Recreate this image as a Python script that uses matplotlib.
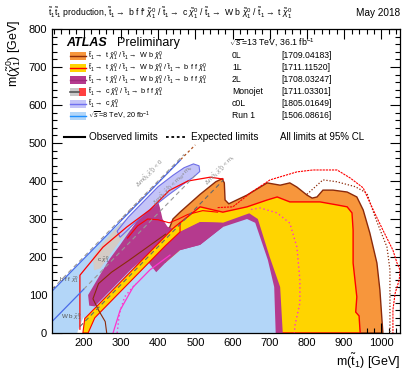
import matplotlib
matplotlib.use("Agg")
import matplotlib.pyplot as plt
from matplotlib.patches import Polygon, Rectangle
from matplotlib.lines import Line2D
from matplotlib.ticker import MultipleLocator
import numpy as np

plt.rcParams['font.family'] = ['Liberation Sans', 'DejaVu Sans']
plt.rcParams['mathtext.fontset'] = 'custom'
plt.rcParams['mathtext.rm'] = 'Liberation Sans'
plt.rcParams['mathtext.it'] = 'Liberation Sans:italic'
plt.rcParams['mathtext.bf'] = 'Liberation Sans:bold'

# ---------------- data (m_stop, m_lsp) in GeV ----------------
x_range = (115, 1050)
y_range = (0, 800)

run1_x = [115, 115, 200, 260, 300, 330, 380, 420, 459, 513, 574, 639, 661, 695, 712, 716, 214, 200, 182]
run1_y = [0, 112, 195, 255, 290, 270, 200, 185, 218, 232, 279, 300, 290, 192, 121, 0, 0, 42, 0]

zeroL_x = [420, 440, 459, 513, 555, 572, 578, 580, 590, 639, 693, 728, 754, 773, 800, 814, 827, 843, 870, 908, 934, 951, 969, 988, 996, 1004, 420]
zeroL_y = [250, 300, 318, 365, 398, 406, 395, 350, 340, 363, 395, 389, 395, 384, 363, 355, 358, 376, 376, 371, 358, 324, 263, 184, 113, 0, 0]

oneL_x = [420, 424, 459, 513, 574, 639, 693, 720, 754, 800, 835, 881, 908, 921, 924, 924, 934, 931, 940, 943, 420]
oneL_y = [200, 260, 290, 332, 318, 332, 350, 358, 345, 345, 345, 337, 332, 316, 271, 184, 95, 55, 45, 0, 0]

twoL_x = [459, 513, 574, 645, 668, 700, 728, 735, 459]
twoL_y = [266, 292, 290, 315, 300, 200, 121, 0, 0]

twoLc_x = [212, 244, 270, 298, 325, 351, 375, 395, 405, 412, 425, 459, 513, 574, 574, 513, 459, 420, 395, 375, 360, 330, 300, 260, 230, 215]
twoLc_y = [100, 153, 195, 232, 270, 305, 335, 362, 330, 300, 280, 266, 292, 290, 279, 232, 218, 185, 160, 185, 195, 170, 140, 100, 70, 72]

oneLc_x = [198, 203, 250, 300, 350, 400, 440, 459, 459, 420, 380, 330, 280, 230, 212]
oneLc_y = [0, 38, 85, 135, 185, 235, 275, 290, 266, 230, 190, 140, 90, 40, 0]

c0L_x = [290, 320, 360, 400, 440, 470, 495, 510, 512, 495, 465, 430, 400, 370, 340, 315, 298]
c0L_y = [268, 305, 345, 385, 415, 435, 445, 440, 425, 410, 390, 365, 342, 318, 292, 268, 252]

mono_x = [225, 250, 280, 310, 330, 345, 330, 300, 270, 245, 228]
mono_y = [200, 235, 268, 296, 312, 310, 280, 245, 205, 170, 165]

# observed / expected contour lines
zeroL_exp_x = [800, 843, 880, 930, 961, 985, 1015, 1023, 1023]
zeroL_exp_y = [365, 403, 398, 385, 368, 300, 226, 166, 0]

zeroL_obs_c_x = [262, 258, 240, 225, 240, 275, 320, 370, 420]
zeroL_obs_c_y = [0, 30, 60, 90, 130, 160, 190, 225, 260]

zeroL_exp_c_x = [300, 350, 400, 450, 500]
zeroL_exp_c_y = [298, 347, 396, 446, 495]

oneL_exp_x = [560, 601, 650, 701, 773, 816, 881, 916, 951, 978, 1004, 1031, 1042, 1050, 1048, 1037, 1031, 1031]
oneL_exp_y = [330, 332, 370, 403, 424, 429, 429, 408, 382, 324, 271, 218, 184, 166, 140, 105, 61, 0]

oneL_obs_c_x = [318, 345, 372, 400, 430, 455, 480, 520, 560]
oneL_obs_c_y = [250, 282, 300, 298, 290, 300, 312, 322, 318]

twoL_exp_x = [650, 674, 720, 754, 773, 781, 781, 768, 766]
twoL_exp_y = [325, 329, 316, 289, 226, 139, 79, 21, 0]

twoL_obs_c_x = [279, 298, 333, 378, 432]
twoL_obs_c_y = [0, 60, 121, 166, 205]

twoL_exp_c_x = [290, 296, 310, 340]
twoL_exp_c_y = [0, 50, 95, 130]

mono_obs_x = [190, 190, 252, 316, 378, 430, 480, 540, 575]
mono_obs_y = [10, 152, 226, 279, 324, 375, 400, 410, 405]

dm_top = 173.0
dm_wb = 85.0

# ---------------- figure ----------------
W, H = 403, 370
fig = plt.figure(figsize=(W / 100, H / 100), dpi=100)
ax = fig.add_axes([52 / W, 37 / H, 348 / W, 304 / H])
ax.set_xlim(*x_range)
ax.set_ylim(*y_range)

C_RUN1 = '#b3d6f8'
C_0L = '#f7963c'
C_1L = '#ffd400'
C_2L = '#b53a8e'
C_C0L = '#c4c4f8'
C_MONO = '#d4ccc6'
C_BROWN = '#8b2a0a'

def poly(xs, ys, fc, ec='none', lw=0.0, z=1):
    ax.add_patch(Polygon(np.column_stack([xs, ys]), closed=True, facecolor=fc,
                         edgecolor=ec, linewidth=lw, zorder=z))

poly(zeroL_x, zeroL_y, C_0L, C_BROWN, 1.0, 1)
poly(oneL_x, oneL_y, C_1L, 'red', 1.0, 2)
poly(twoL_x, twoL_y, C_2L, 'none', 0, 3)
poly(run1_x, run1_y, C_RUN1, 'none', 0, 4)
poly(mono_x, mono_y, C_MONO, 'none', 0, 5)
poly(twoLc_x, twoLc_y, C_2L, 'none', 0, 5)
poly(oneLc_x, oneLc_y, C_1L, 'red', 0.8, 6)
poly(c0L_x, c0L_y, C_C0L, '#6e6ee6', 0.8, 7)

ax.plot(zeroL_exp_x, zeroL_exp_y, color=C_BROWN, ls=(0, (1, 1.5)), lw=0.9, zorder=9)
ax.plot(zeroL_obs_c_x, zeroL_obs_c_y, color=C_BROWN, lw=0.8, zorder=9)
ax.plot(zeroL_exp_c_x, zeroL_exp_c_y, color='#b0501e', ls=(0, (2, 2)), lw=0.9, zorder=9)
ax.plot(oneL_exp_x, oneL_exp_y, color='red', ls=(0, (2, 0.8)), lw=0.8, zorder=9)
ax.plot(oneL_obs_c_x, oneL_obs_c_y, color='red', lw=0.8, zorder=9)
ax.plot(twoL_exp_x, twoL_exp_y, color='#ff33cc', ls=(0, (1, 2)), lw=1.0, zorder=9)
ax.plot(twoL_obs_c_x, twoL_obs_c_y, color='#ff33cc', lw=0.9, zorder=9)
ax.plot(twoL_exp_c_x, twoL_exp_c_y, color='#ff33cc', ls=(0, (1, 2)), lw=1.0, zorder=9)
ax.plot(mono_obs_x, mono_obs_y, color='red', lw=0.9, zorder=9)

# kinematic lines
xs = np.array([115, 470])
ax.plot(xs, xs, color='#999999', ls=(0, (4, 3)), lw=0.8, zorder=10)
xs = np.array([200, 500])
ax.plot(xs, xs - dm_wb, color='#999999', ls=(0, (4, 3)), lw=0.8, zorder=10)
xs = np.array([190, 575])
ax.plot(xs, xs - dm_top, color='#666666', ls=(0, (4, 3)), lw=0.8, zorder=10)
# run-1 boundary lines
xs = np.array([115, 460])
ax.plot(xs, xs - 5, color='#4a6be8', lw=0.9, zorder=10)
xs = np.array([115, 200])
ax.plot(xs, xs - dm_wb, color='#4a6be8', lw=0.9, zorder=10)

ang = np.degrees(np.arctan((304 / 800) / (348 / 935)))
lab_kw = dict(color='#888888', fontsize=4.3, rotation=ang, ha='center', va='center', zorder=11)
ax.text(378, 421, r'$\Delta$m($\tilde{\mathrm{t}}_1$,$\tilde{\chi}^0_1$) < 0', **lab_kw)
ax.text(440, 389, r'$\Delta$m($\tilde{\mathrm{t}}_1$,$\tilde{\chi}^0_1$) < m$_{\mathrm{W}}$+m$_{\mathrm{b}}$', **lab_kw)
ax.text(566, 429, r'$\Delta$m($\tilde{\mathrm{t}}_1$,$\tilde{\chi}^0_1$) < m$_{\mathrm{t}}$', **lab_kw)
ax.text(135, 135, r'b f f $\tilde{\chi}^0_1$', color='#555555', fontsize=4.5, zorder=11)
ax.text(138, 40, r'W b $\tilde{\chi}^0_1$', color='#555555', fontsize=4.5, zorder=11)
ax.text(236, 188, r'c $\tilde{\chi}^0_1$', color='#555555', fontsize=4.5, zorder=11)

# axes style
ax.xaxis.set_major_locator(MultipleLocator(100))
ax.xaxis.set_minor_locator(MultipleLocator(20))
ax.yaxis.set_major_locator(MultipleLocator(100))
ax.yaxis.set_minor_locator(MultipleLocator(20))
ax.tick_params(which='both', direction='in', top=True, right=True, labelsize=8, width=0.8, zorder=20)
ax.tick_params(which='major', length=7)
ax.tick_params(which='minor', length=3.5)
for s in ax.spines.values():
    s.set_linewidth(0.9)
    s.set_zorder(20)
ax.set_xticks([200, 300, 400, 500, 600, 700, 800, 900, 1000])

T = lambda px, py: (px / W, 1 - py / H)
st = r'$\tilde{\mathrm{t}}_1$'
chi = r'$\tilde{\chi}^0_1$'
arr = r'$\rightarrow$'
fig.text(*T(400, 361), r'm($\tilde{\mathrm{t}}_1$) [GeV]', ha='right', va='center', fontsize=9)
fig.text(*T(14, 20), r'm($\tilde{\chi}^0_1$) [GeV]', ha='center', va='top', rotation=90, fontsize=9)

fig.text(*T(48, 13), st + st + ' production, ' + st + arr + " b f f' " + chi + ' / ' + st +
         arr + ' c ' + chi + ' / ' + st + arr + ' W b ' + chi + ' / ' + st + arr + ' t ' + chi,
         ha='left', va='center', fontsize=6.2)
fig.text(*T(400, 13), 'May 2018', ha='right', va='center', fontsize=7.2)

fig.text(*T(66, 43), 'ATLAS', fontsize=9, fontweight='bold', fontstyle='italic', va='center')
fig.text(*T(117, 43), 'Preliminary', fontsize=9, va='center')

rows_y = [56, 68, 80, 92, 104, 116]
row_txt = [st + arr + ' t ' + chi + ' / ' + st + arr + ' W b ' + chi,
           st + arr + ' t ' + chi + ' / ' + st + arr + ' W b ' + chi + ' / ' + st + arr + ' b f f ' + chi,
           st + arr + ' t ' + chi + ' / ' + st + arr + ' W b ' + chi + ' / ' + st + arr + ' b f f ' + chi,
           st + arr + ' c ' + chi + ' / ' + st + arr + ' b f f ' + chi,
           st + arr + ' c ' + chi,
           r'$\sqrt{s}$=8 TeV, 20 fb$^{-1}$']
sw_fc = [C_0L, C_1L, C_2L, None, C_C0L, C_RUN1]
sw_lc = [C_BROWN, 'red', '#a02a7a', None, '#7070f0', '#1e90ff']
for yy, txt, fc, lc in zip(rows_y, row_txt, sw_fc, sw_lc):
    if fc is None:
        fig.patches.append(Rectangle(T(70, yy + 4), 9 / W, 8 / H, transform=fig.transFigure, fc='#c8c8c8', ec='none'))
        fig.patches.append(Rectangle(T(79, yy + 4), 7 / W, 8 / H, transform=fig.transFigure, fc='#ff4040', ec='none'))
        fig.lines.append(Line2D([70 / W, 79 / W], [1 - yy / H] * 2, transform=fig.transFigure, color='#555555', lw=1.2))
    else:
        fig.patches.append(Rectangle(T(70, yy + 4), 16 / W, 8 / H, transform=fig.transFigure, fc=fc, ec='none'))
        fig.lines.append(Line2D([70 / W, 86 / W], [1 - yy / H] * 2, transform=fig.transFigure, color=lc, lw=1.0))
    fig.text(*T(88, yy), txt, fontsize=5.2, va='center')

fig.text(*T(229, 43), r'$\sqrt{s}$=13 TeV, 36.1 fb$^{-1}$', fontsize=6.3, va='center')
an_names = ['0L', '1L', '2L', 'Monojet', 'c0L', 'Run 1']
an_refs = ['[1709.04183]', '[1711.11520]', '[1708.03247]', '[1711.03301]', '[1805.01649]', '[1506.08616]']
for yy, nm, rf in zip(rows_y, an_names, an_refs):
    fig.text(*T(232, yy), nm, fontsize=6.2, va='center')
    fig.text(*T(281, yy), rf, fontsize=6.2, va='center')

fig.lines.append(Line2D([64 / W, 85 / W], [1 - 137 / H] * 2, transform=fig.transFigure, color='black', lw=1.5))
fig.text(*T(89, 137), 'Observed limits', fontsize=7.2, va='center')
fig.lines.append(Line2D([166 / W, 187 / W], [1 - 137 / H] * 2, transform=fig.transFigure, color='black', lw=1.3, ls=(0, (1.5, 1.5))))
fig.text(*T(191, 137), 'Expected limits', fontsize=7.2, va='center')
fig.text(*T(280, 137), 'All limits at 95% CL', fontsize=7, va='center')

fig.savefig('out.png', dpi=100)
